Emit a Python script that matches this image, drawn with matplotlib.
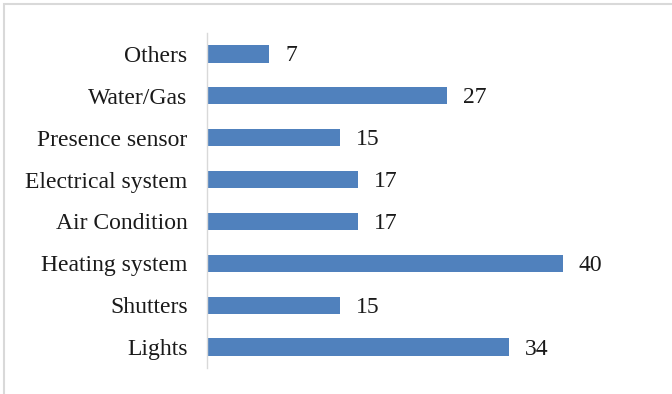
import matplotlib.pyplot as plt
from matplotlib.patches import Rectangle

categories = ["Lights", "Shutters", "Heating system", "Air Condition",
              "Electrical system", "Presence sensor", "Water/Gas", "Others"]
counts = [34, 15, 40, 17, 17, 15, 27, 7]

bar_color = "#5081BD"
W, H = 672, 394
dpi = 100
fs = 17

plt.rcParams['font.family'] = ['Liberation Serif', 'DejaVu Serif']

fig = plt.figure(figsize=(W / dpi, H / dpi), dpi=dpi)
ax = fig.add_axes([207 / W, 26 / H, 400 / W, 335 / H])

y = list(range(len(categories)))
bars = ax.barh(y, counts, height=0.41, color=bar_color)

for rect, val in zip(bars, counts):
    ax.annotate(str(val), (rect.get_width(), rect.get_y() + rect.get_height() / 2),
                xytext=(16, -2), textcoords="offset pixels",
                ha="left", va="center", fontsize=fs, color="#1a1a1a")

ax.set_xlim(0, 45)
ax.set_ylim(-0.5, len(categories) - 0.5)
ax.set_yticks(y)
ax.set_yticklabels(categories, fontsize=fs, color="#1a1a1a")
ax.tick_params(axis="y", length=0, pad=14)
ax.set_xticks([])

for side in ("top", "right", "bottom"):
    ax.spines[side].set_visible(False)
ax.spines["left"].set_color("#d9d9d9")
ax.spines["left"].set_linewidth(1.0)

# light frame around the chart area
fig.patches.append(Rectangle((4 / W, -0.1), 1.2, (H - 4) / H + 0.1,
                             transform=fig.transFigure, fill=False,
                             edgecolor="#d9d9d9", linewidth=1.5))

fig.savefig("out.png", dpi=dpi)
